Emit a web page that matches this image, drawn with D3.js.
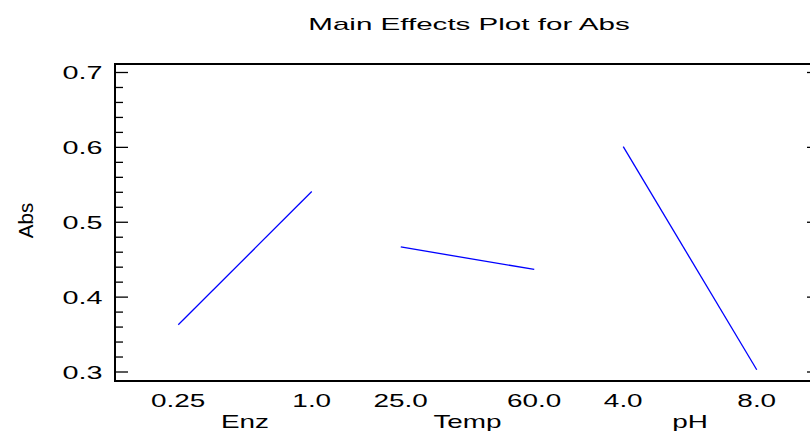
<!DOCTYPE html>
<html>
<head>
<meta charset="utf-8">
<script src="https://cdn.jsdelivr.net/npm/d3@7"></script>
<style>
  html, body { margin: 0; padding: 0; background: #fff; }
  svg { display: block; }
  text { font-family: "Liberation Sans", Arial, sans-serif; fill: #000; }
</style>
</head>
<body>
<svg id="chart" width="810" height="431"></svg>
<script>
const title = "Main Effects Plot for Abs";
const yLabel = "Abs";
const factors = ["Enz", "Temp", "pH"];
const levels = ["low", "high"];
const levelLabels = [["0.25", "1.0"], ["25.0", "60.0"], ["4.0", "8.0"]];
const lowMeans = [0.363, 0.467, 0.601];
const highMeans = [0.541, 0.437, 0.303];
const yTicks = [0.3, 0.4, 0.5, 0.6, 0.7];
const yTickLabels = ["0.3", "0.4", "0.5", "0.6", "0.7"];

const svg = d3.select("#chart");
const W = 810, H = 431;
const box = { left: 115, right: 820, top: 64, bottom: 381 };

const y = d3.scaleLinear().domain([0.3, 0.7]).range([372, 72.5]);
const xFactor = d3.scalePoint().domain(factors).range([245, 690]);
const xLevel = d3.scalePoint().domain(levels).range([-66.75, 66.75]);

function stretchedText(x, yPos, str, size, sx, anchor) {
  const g = svg.append("g").attr("transform", `translate(${x},${yPos}) scale(${sx},1)`);
  g.append("text")
    .attr("text-anchor", anchor)
    .attr("font-size", size)
    .text(str);
  return g;
}

// Title
stretchedText(469, 30, title, 17, 1.74, "middle");

// Frame
svg.append("rect")
  .attr("x", box.left).attr("y", box.top)
  .attr("width", box.right - box.left).attr("height", box.bottom - box.top)
  .attr("fill", "none").attr("stroke", "#000").attr("stroke-width", 2);

// Y ticks (major + minor), left and right, pointing inward
const minor = d3.range(0.3, 0.7001, 0.02).filter(v => !yTicks.some(t => Math.abs(t - v) < 1e-6));
const tickG = svg.append("g").attr("stroke", "#000").attr("stroke-width", 1.3);
yTicks.forEach(v => {
  tickG.append("line").attr("x1", box.left).attr("x2", box.left + 13).attr("y1", y(v)).attr("y2", y(v));
  tickG.append("line").attr("x1", box.right).attr("x2", box.right - 13).attr("y1", y(v)).attr("y2", y(v));
});
minor.forEach(v => {
  tickG.append("line").attr("x1", box.left).attr("x2", box.left + 8).attr("y1", y(v)).attr("y2", y(v));
  tickG.append("line").attr("x1", box.right).attr("x2", box.right - 8).attr("y1", y(v)).attr("y2", y(v));
});

// Y tick labels
yTicks.forEach((v, i) => {
  stretchedText(102.5, y(v) + 6.5, yTickLabels[i], 18, 1.6, "end");
});

// Y axis title
svg.append("text")
  .attr("transform", `translate(33,220.5) rotate(-90)`)
  .attr("text-anchor", "middle")
  .attr("font-size", 20.5)
  .text(yLabel);

// X level labels and factor names
factors.forEach((f, i) => {
  levels.forEach((l, j) => {
    stretchedText(xFactor(f) + xLevel(l), 406.5, levelLabels[i][j], 18, 1.55, "middle");
  });
  stretchedText(xFactor(f), 428, f, 18, 1.55, "middle");
});

// Main effect lines
const line = d3.line().x(d => d.x).y(d => y(d.v));
factors.forEach((f, i) => {
  const pts = [
    { x: xFactor(f) + xLevel("low"), v: lowMeans[i] },
    { x: xFactor(f) + xLevel("high"), v: highMeans[i] }
  ];
  svg.append("path")
    .attr("d", line(pts))
    .attr("fill", "none")
    .attr("stroke", "#0000ff")
    .attr("stroke-width", 1.3);
});
</script>
</body>
</html>
